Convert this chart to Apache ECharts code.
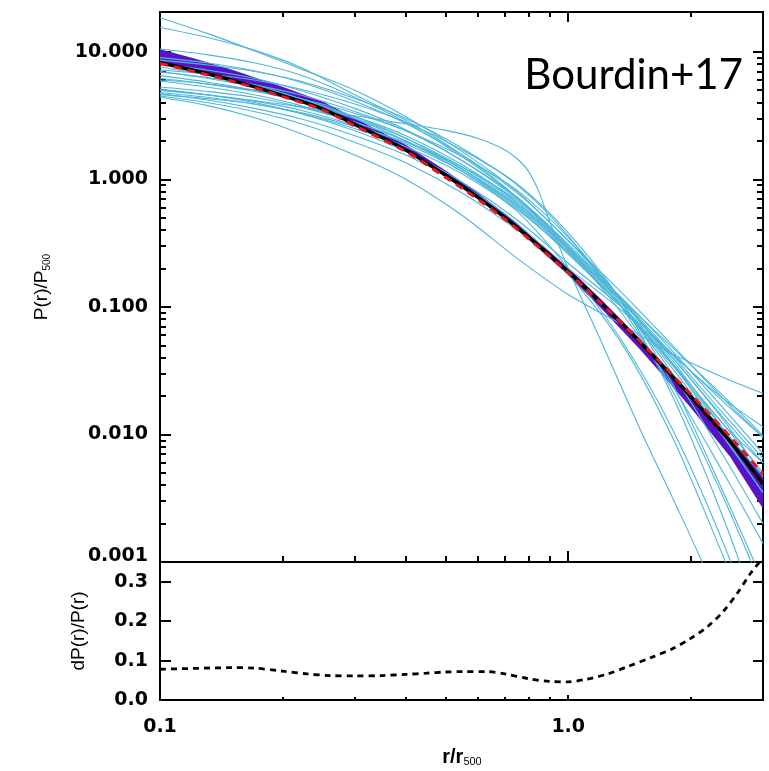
<!DOCTYPE html>
<html>
<head>
<meta charset="utf-8">
<script src="https://cdn.jsdelivr.net/npm/echarts@6/dist/echarts.min.js"></script>
<style>
html, body { margin: 0; padding: 0; background: #fff; }
#chart { width: 769px; height: 771px; }
</style>
</head>
<body>
<div id="chart"></div>
<script>
// radius grid for the main model curves (r/r500)
var rMain = [0.1, 0.12, 0.15, 0.2, 0.25, 0.3, 0.4, 0.5, 0.6, 0.7, 0.8, 1.0, 1.2, 1.5, 1.8, 2.0, 2.5, 3.0];
var pBest = [8.2, 7.2, 6.0, 4.53, 3.57, 2.70, 1.70, 1.08, 0.725, 0.50, 0.352, 0.189, 0.108, 0.0528, 0.0284, 0.0196, 0.0087, 0.0041];
var pRed = [8.1, 7.05, 5.88, 4.45, 3.5, 2.63, 1.65, 1.04, 0.70, 0.485, 0.342, 0.186, 0.108, 0.0535, 0.0293, 0.0205, 0.0095, 0.0049];
var bandLow = [8.3, 7.25, 6.05, 4.56, 3.58, 2.71, 1.70, 1.075, 0.72, 0.495, 0.345, 0.182, 0.101, 0.0475, 0.0245, 0.0165, 0.0068, 0.0027];
var bandHigh = [10.3, 8.8, 7.1, 5.2, 4.0, 2.97, 1.83, 1.15, 0.765, 0.525, 0.368, 0.198, 0.113, 0.0545, 0.0293, 0.0202, 0.0091, 0.0046];

// individual cluster profiles (cyan)
var rCl = [0.1, 0.13, 0.17, 0.22, 0.3, 0.4, 0.55, 0.75, 1.0, 1.35, 1.8, 2.4, 3.0];
var cl01 = [18.5, 14.0, 10.2, 7.4, 5.0, 3.1, 1.65, 0.8, 0.33, 0.13, 0.05, 0.019, 0.0095];
var cl02 = [15.5, 13.0, 10.3, 7.6, 4.6, 2.9, 1.55, 0.72, 0.29, 0.105, 0.036, 0.012, 0.005];
var cl03 = [10.5, 9.5, 8.2, 6.6, 4.4, 2.8, 1.5, 0.72, 0.30, 0.11, 0.04, 0.0135, 0.006];
var cl04 = [9.0, 8.2, 7.1, 5.8, 4.1, 2.75, 1.55, 0.78, 0.33, 0.115, 0.036, 0.0098, 0.0035];
var cl05 = [8.6, 7.9, 7.0, 5.9, 4.3, 3.0, 1.75, 0.9, 0.36, 0.1, 0.022, 0.0032, 0.0006];
var cl06 = [8.0, 7.2, 6.2, 5.0, 3.6, 2.45, 1.4, 0.7, 0.30, 0.115, 0.042, 0.0145, 0.0065];
var cl07 = [7.6, 6.6, 5.5, 4.3, 3.0, 2.0, 1.15, 0.58, 0.27, 0.115, 0.048, 0.02, 0.0098];
var cl08 = [7.2, 6.7, 6.0, 5.1, 3.9, 2.8, 1.7, 0.92, 0.38, 0.11, 0.02, 0.0022, 0.0003];
var cl09 = [6.9, 6.3, 5.5, 4.6, 3.4, 2.4, 1.4, 0.72, 0.31, 0.115, 0.038, 0.011, 0.0042];
var cl10 = [6.5, 5.8, 5.0, 4.1, 3.0, 2.1, 1.25, 0.65, 0.29, 0.118, 0.045, 0.016, 0.0071];
var cl11 = [6.2, 5.6, 4.9, 4.1, 3.1, 2.2, 1.3, 0.66, 0.28, 0.10, 0.03, 0.0068, 0.002];
var cl12 = [5.9, 5.3, 4.6, 3.8, 2.8, 2.0, 1.2, 0.63, 0.28, 0.11, 0.04, 0.013, 0.0047];
var cl14 = [5.3, 4.9, 4.4, 3.7, 2.8, 2.0, 1.2, 0.62, 0.27, 0.10, 0.033, 0.0095, 0.0035];
var cl15 = [5.0, 4.6, 4.1, 3.5, 2.65, 1.9, 1.15, 0.6, 0.26, 0.10, 0.036, 0.012, 0.006];
var cl16 = [4.8, 4.4, 3.9, 3.3, 2.5, 1.8, 1.1, 0.56, 0.2, 0.055, 0.011, 0.0014, 0.0002];
var cl17 = [4.6, 4.3, 3.9, 3.35, 2.6, 1.95, 1.25, 0.68, 0.28, 0.09, 0.024, 0.005, 0.0014];
var cl18 = [4.4, 3.8, 3.05, 2.3, 1.55, 1.0, 0.52, 0.24, 0.125, 0.073, 0.043, 0.028, 0.021];
var cl19 = [4.5, 4.0, 3.4, 2.75, 1.95, 1.35, 0.78, 0.4, 0.2, 0.094, 0.042, 0.019, 0.0115];
var cl20 = [5.1, 4.6, 4.0, 3.3, 2.4, 1.65, 0.95, 0.48, 0.22, 0.10, 0.043, 0.018, 0.0095];
var cl21 = [6.0, 5.6, 5.0, 4.3, 3.3, 2.4, 1.5, 0.82, 0.35, 0.11, 0.025, 0.0035, 0.0007];
var cl22 = [7.0, 6.2, 5.3, 4.3, 3.1, 2.1, 1.2, 0.6, 0.26, 0.10, 0.035, 0.011, 0.0047];
var cl23 = [4.7, 4.2, 3.6, 3.0, 2.2, 1.55, 0.9, 0.45, 0.18, 0.052, 0.0095, 0.0011, 0.0002];
var clusters = [cl01, cl02, cl03, cl04, cl05, cl06, cl07, cl08, cl09, cl10, cl11, cl12,
                cl14, cl15, cl16, cl17, cl18, cl19, cl20, cl21, cl22, cl23];

// the flat-core cluster that drops off sharply past r500, read on a finer grid
var rBump = [0.1, 0.13, 0.17, 0.22, 0.3, 0.4, 0.5, 0.6, 0.7, 0.75, 0.8, 0.85, 0.9, 1.0, 1.2, 1.5, 1.8, 2.1, 2.4];
var clBump = [5.0, 4.6, 4.15, 3.7, 3.15, 2.72, 2.42, 2.1, 1.7, 1.45, 1.15, 0.78, 0.47, 0.2, 0.055, 0.011, 0.0032, 0.0011, 0.0004];

// relative error panel
var rErr = [0.1, 0.12, 0.15, 0.17, 0.2, 0.23, 0.26, 0.3, 0.35, 0.4, 0.45, 0.5, 0.55, 0.63, 0.7, 0.8, 0.9, 1.0, 1.1, 1.25, 1.4, 1.6, 1.8, 2.0, 2.2, 2.4, 2.6, 2.8, 3.0];
var dErr = [0.078, 0.080, 0.082, 0.081, 0.073, 0.066, 0.062, 0.061, 0.062, 0.065, 0.068, 0.071, 0.072, 0.072, 0.066, 0.054, 0.047, 0.046, 0.052, 0.066, 0.085, 0.108, 0.130, 0.157, 0.187, 0.225, 0.272, 0.322, 0.36];

// ticks and labels
var xLabels = [0.1, 1];
var xMajor = [1];
var xMinor = [0.2, 0.3, 0.4, 0.5, 0.6, 0.7, 0.8, 0.9, 2];
var yLabels = [0.001, 0.01, 0.1, 1, 10];
var yMajor = [0.01, 0.1, 1, 10];
var yMinor = [0.002, 0.003, 0.004, 0.005, 0.006, 0.007, 0.008, 0.009,
              0.02, 0.03, 0.04, 0.05, 0.06, 0.07, 0.08, 0.09,
              0.2, 0.3, 0.4, 0.5, 0.6, 0.7, 0.8, 0.9,
              2, 3, 4, 5, 6, 7, 8, 9];
var errLabels = [0, 0.1, 0.2, 0.3];
var errTicks = [0.1, 0.2, 0.3];

function pairs(xs, ys) {
    return xs.map(function (x, i) { return [x, ys[i]]; });
}

var tickFont = { color: '#000', fontFamily: 'DejaVu Sans', fontWeight: 'bold', fontSize: 19 };

function tickAxis(grid, type, pos, ticks, len, extra) {
    var a = {
        gridIndex: grid,
        type: type,
        position: pos,
        axisLine: { show: true, onZero: false, lineStyle: { color: '#000', width: 2 } },
        axisTick: { show: true, inside: true, length: len, customValues: ticks, lineStyle: { color: '#000', width: 2 } },
        axisLabel: { show: false },
        splitLine: { show: false },
        minorTick: { show: false }
    };
    for (var k in extra) a[k] = extra[k];
    return a;
}

function labelStyle(values, margin, fmt, rich) {
    var s = { show: true, customValues: values, margin: margin, formatter: fmt };
    for (var k in tickFont) s[k] = tickFont[k];
    if (rich) s.rich = rich;
    return s;
}

var xTop = { min: 0.1, max: 3, logBase: 10 };
var yTop = { min: 0.001, max: 20.5, logBase: 10 };
var yBot = { min: 0, max: 0.35 };

var xAxes = [
    tickAxis(0, 'log', 'bottom', xMajor, 11, xTop),
    tickAxis(0, 'log', 'bottom', xMinor, 6, xTop),
    tickAxis(0, 'log', 'top', xMajor, 10, xTop),
    tickAxis(0, 'log', 'top', xMinor, 5, xTop),
    tickAxis(1, 'log', 'bottom', xMajor, 5, xTop),
    tickAxis(1, 'log', 'bottom', xMinor, 3, xTop)
];
xAxes[4].axisLabel = labelStyle(xLabels, 18, function (v) { return Number(v).toFixed(1); });

var yAxes = [
    tickAxis(0, 'log', 'left', yMajor, 11, yTop),
    tickAxis(0, 'log', 'left', yMinor, 6, yTop),
    tickAxis(0, 'log', 'right', yMajor, 10, yTop),
    tickAxis(0, 'log', 'right', yMinor, 6, yTop),
    tickAxis(1, 'value', 'left', errTicks, 11, yBot),
    tickAxis(1, 'value', 'right', errTicks, 10, yBot)
];
var lowRich = {
    low: { fontFamily: 'DejaVu Sans', fontWeight: 'bold', fontSize: 19, color: '#000', padding: [0, 0, 12, 0] }
};
yAxes[0].axisLabel = labelStyle(yLabels, 12, function (v) {
    var t = Number(v).toFixed(3);
    return Number(v) < 0.0015 ? '{low|' + t + '}' : t;
}, lowRich);
yAxes[4].axisLabel = labelStyle(errLabels, 12, function (v) { return Number(v).toFixed(1); });

var cyanStyle = { color: '#4db6d9', width: 1.1 };
var series = [];
clusters.forEach(function (c, i) {
    series.push({
        name: 'cluster' + (i + 1),
        type: 'line',
        xAxisIndex: 0, yAxisIndex: 0,
        data: pairs(rCl, c),
        smooth: 0.3,
        symbol: 'none',
        clip: true,
        lineStyle: cyanStyle
    });
});
series.push({
    name: 'clusterBump',
    type: 'line',
    xAxisIndex: 0, yAxisIndex: 0,
    data: pairs(rBump, clBump),
    smooth: 0.4,
    symbol: 'none',
    clip: true,
    lineStyle: cyanStyle
});

series.push({
    name: 'band',
    type: 'custom',
    xAxisIndex: 0, yAxisIndex: 0,
    clip: true,
    data: [[rMain[0], bandHigh[0]]],
    renderItem: function (params, api) {
        var pts = [];
        for (var i = 0; i < rMain.length; i++) pts.push(api.coord([rMain[i], bandHigh[i]]));
        for (var j = rMain.length - 1; j >= 0; j--) pts.push(api.coord([rMain[j], bandLow[j]]));
        return { type: 'polygon', shape: { points: pts }, style: { fill: '#5a12c8', stroke: '#5a12c8', lineWidth: 2 } };
    }
});

series.push({
    name: 'best',
    type: 'line',
    xAxisIndex: 0, yAxisIndex: 0,
    data: pairs(rMain, pBest),
    smooth: 0.3,
    symbol: 'none',
    lineStyle: { color: '#000', width: 3.5 }
});

series.push({
    name: 'red',
    type: 'line',
    xAxisIndex: 0, yAxisIndex: 0,
    data: pairs(rMain, pRed),
    smooth: 0.3,
    symbol: 'none',
    lineStyle: { color: '#e8151b', width: 3, type: [8, 6] }
});

series.push({
    name: 'err',
    type: 'line',
    xAxisIndex: 4, yAxisIndex: 4,
    data: pairs(rErr, dErr),
    smooth: 0.3,
    symbol: 'none',
    clip: true,
    lineStyle: { color: '#000', width: 2.8, type: [6, 5] }
});

var chart = echarts.init(document.getElementById('chart'));
chart.setOption({
    animation: false,
    backgroundColor: '#fff',
    grid: [
        { left: 160, top: 12, width: 603, height: 550, outerBoundsMode: 'none' },
        { left: 160, top: 562, width: 603, height: 138, outerBoundsMode: 'none' }
    ],
    xAxis: xAxes,
    yAxis: yAxes,
    series: series,
    graphic: [
        {
            type: 'text', x: 743, y: 75,
            style: { text: 'Bourdin+17', align: 'right', verticalAlign: 'middle',
                     fontFamily: 'Lato', fontSize: 42, fill: '#000' }
        },
        {
            type: 'text', x: 42, y: 287, rotation: Math.PI / 2,
            style: {
                text: '{m|P(r)/P}{s|500}', align: 'center', verticalAlign: 'middle',
                rich: {
                    m: { fontFamily: 'Liberation Sans', fontSize: 19, fill: '#000' },
                    s: { fontFamily: 'Liberation Sans', fontSize: 10, fill: '#000', padding: [10, 0, 0, 0] }
                }
            }
        },
        {
            type: 'text', x: 79, y: 631, rotation: Math.PI / 2,
            style: {
                text: 'dP(r)/P(r)', align: 'center', verticalAlign: 'middle',
                fontFamily: 'Liberation Sans', fontSize: 19, fill: '#000'
            }
        },
        {
            type: 'text', x: 462, y: 757,
            style: {
                text: '{m|r/r}{s|500}', align: 'center', verticalAlign: 'middle',
                rich: {
                    m: { fontFamily: 'Liberation Sans', fontSize: 20, fontWeight: 'bold', fill: '#000' },
                    s: { fontFamily: 'Liberation Sans', fontSize: 11, fill: '#000', padding: [10, 0, 0, 0] }
                }
            }
        }
    ]
});
</script>
</body>
</html>
